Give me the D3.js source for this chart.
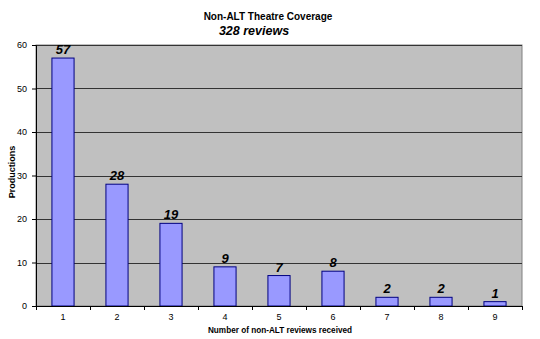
<!DOCTYPE html>
<html>
<head>
<meta charset="utf-8">
<script src="https://cdn.jsdelivr.net/npm/d3@7"></script>
<style>
  body { margin: 0; background: #fff; }
  svg { display: block; font-family: Arial, "Liberation Sans", sans-serif; }
</style>
</head>
<body>
<svg id="chart" width="540" height="339"></svg>
<script>
const categories = ["1", "2", "3", "4", "5", "6", "7", "8", "9"];
const productions = [57, 28, 19, 9, 7, 8, 2, 2, 1];
const yTicks = [0, 10, 20, 30, 40, 50, 60];

const svg = d3.select("#chart");
const margin = { left: 36, right: 18, top: 45, bottom: 33 };
const W = 540, H = 339;
const plotW = W - margin.left - margin.right;
const plotH = H - margin.top - margin.bottom;

const x = d3.scaleBand().domain(categories).range([0, plotW]).paddingInner(0.59).paddingOuter(0.295);
const y = d3.scaleLinear().domain([0, 60]).range([plotH, 0]);

const g = svg.append("g").attr("transform", `translate(${margin.left},${margin.top})`);

// plot background
g.append("rect").attr("width", plotW).attr("height", plotH)
  .attr("fill", "#c0c0c0").attr("stroke", "#808080").attr("stroke-width", 1);

// horizontal gridlines
g.selectAll(".grid").data(yTicks.filter(d => d > 0)).join("line")
  .attr("x1", 0).attr("x2", plotW)
  .attr("y1", d => Math.round(y(d)) + 0.5).attr("y2", d => Math.round(y(d)) + 0.5)
  .attr("stroke", "#333").attr("stroke-width", 1);

// bars
g.selectAll(".bar").data(productions).join("rect")
  .attr("x", (d, i) => x(categories[i]))
  .attr("y", d => y(d))
  .attr("width", x.bandwidth())
  .attr("height", d => plotH - y(d))
  .attr("fill", "#9999ff").attr("stroke", "#000080").attr("stroke-width", 1);

// value labels
g.selectAll(".val").data(productions).join("text")
  .attr("x", (d, i) => x(categories[i]) + x.bandwidth() / 2)
  .attr("y", d => y(d) - 4)
  .attr("text-anchor", "middle")
  .attr("font-size", 13).attr("font-weight", "bold").attr("font-style", "italic")
  .attr("fill", "#000")
  .text(d => d);

// y axis
const yAxis = g.append("g").call(d3.axisLeft(y).tickValues(yTicks).tickSize(4).tickPadding(5));
yAxis.select(".domain").attr("stroke", "#000");
yAxis.selectAll("line").attr("stroke", "#000");
yAxis.selectAll("text").attr("font-size", 9).attr("font-family", "Arial, 'Liberation Sans', sans-serif").attr("fill", "#000");

// x axis: ticks sit between categories
const xAxisG = g.append("g").attr("transform", `translate(0,${plotH})`);
xAxisG.append("line").attr("x1", 0).attr("x2", plotW).attr("y1", 0.5).attr("y2", 0.5).attr("stroke", "#000");
xAxisG.selectAll(".tk").data(d3.range(categories.length + 1)).join("line")
  .attr("x1", i => Math.round(i * plotW / categories.length) + 0.5)
  .attr("x2", i => Math.round(i * plotW / categories.length) + 0.5)
  .attr("y1", 0).attr("y2", 4).attr("stroke", "#000");
xAxisG.selectAll(".lbl").data(categories).join("text")
  .attr("x", d => x(d) + x.bandwidth() / 2)
  .attr("y", 14)
  .attr("text-anchor", "middle").attr("font-size", 9).attr("fill", "#000")
  .text(d => d);

// axis titles
svg.append("text").attr("x", 280).attr("y", 333).attr("text-anchor", "middle")
  .attr("font-size", 8.2).attr("font-weight", "bold").text("Number of non-ALT reviews received");
svg.append("text").attr("transform", `translate(15,172) rotate(-90)`)
  .attr("text-anchor", "middle").attr("font-size", 9).attr("font-weight", "bold").text("Productions");

// chart titles
svg.append("text").attr("x", 268).attr("y", 20).attr("text-anchor", "middle")
  .attr("font-size", 10).attr("font-weight", "bold").text("Non-ALT Theatre Coverage");
svg.append("text").attr("x", 254).attr("y", 35).attr("text-anchor", "middle")
  .attr("font-size", 12.5).attr("font-weight", "bold").attr("font-style", "italic").text("328 reviews");
</script>
</body>
</html>
